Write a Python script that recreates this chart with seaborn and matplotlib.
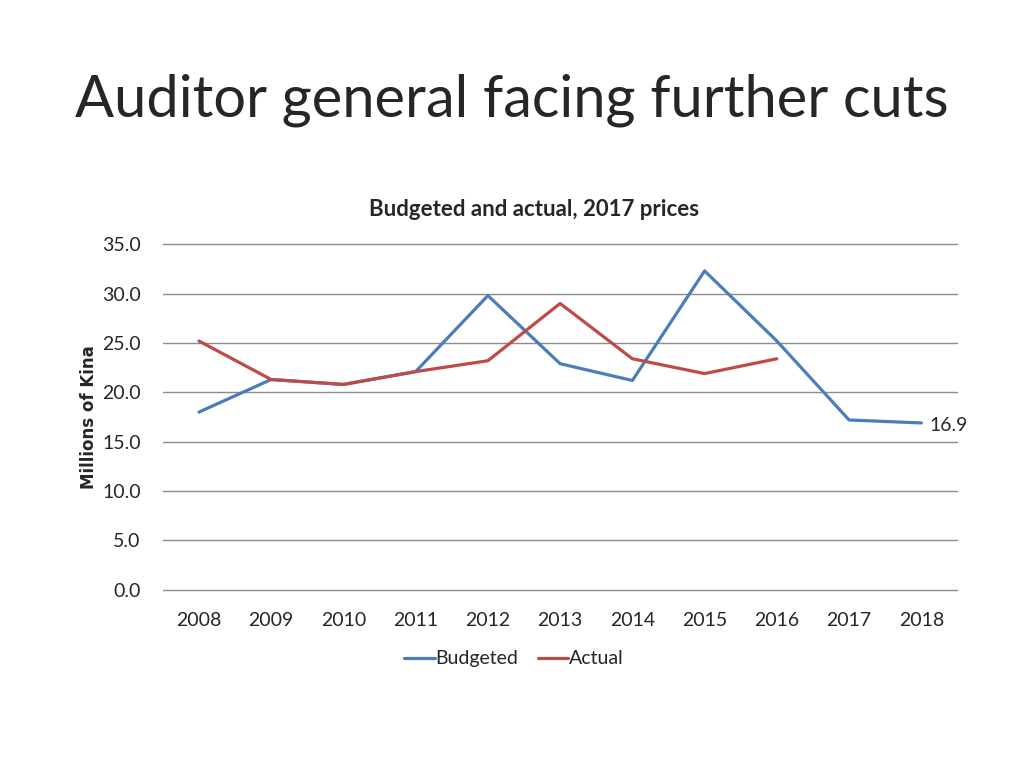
import pandas as pd
import matplotlib.pyplot as plt
import seaborn as sns

# data
years = ['2008', '2009', '2010', '2011', '2012', '2013', '2014', '2015', '2016', '2017', '2018']
budgeted = [18.0, 21.3, 20.8, 22.1, 29.8, 22.9, 21.2, 32.3, 25.2, 17.2, 16.9]
actual = [25.2, 21.3, 20.8, 22.1, 23.2, 29.0, 23.4, 21.9, 23.4, None, None]

df = pd.DataFrame({
    'pos': list(range(len(years))) * 2,
    'value': budgeted + actual,
    'series': ['Budgeted'] * len(years) + ['Actual'] * len(years),
}).dropna()

sns.set_style("white")
plt.rcParams['font.family'] = ['Lato', 'DejaVu Sans']

fig = plt.figure(figsize=(10.24, 7.68), dpi=100)
ax = fig.add_axes([0.159, 0.232, 0.776, 0.450])

sns.lineplot(data=df, x='pos', y='value', hue='series',
             palette={'Budgeted': '#4A7EBB', 'Actual': '#BE4B48'},
             linewidth=2.3, ax=ax)

ax.set_xlim(-0.5, len(years) - 0.5)
ax.set_ylim(0, 35)
ax.set_yticks([0, 5, 10, 15, 20, 25, 30, 35])
ax.set_yticklabels([f'{v:.1f}' for v in ax.get_yticks()], fontsize=14)
ax.set_xticks(range(len(years)))
ax.set_xticklabels(years, fontsize=14)
ax.tick_params(axis='x', length=0, pad=16)
ax.tick_params(axis='y', length=0, pad=16)
ax.grid(axis='y', color='#8c8c8c', linewidth=1)
for gl in ax.get_ygridlines():
    gl.set_clip_on(False)
ax.set_axisbelow(True)
for s in ax.spines.values():
    s.set_visible(False)

ax.set_xlabel('')
ax.set_ylabel('Millions of Kina', fontsize=12, fontweight='bold',
              family='DejaVu Sans', labelpad=3)

# label for last budgeted value
ax.annotate(f'{budgeted[-1]}', (len(years) - 1, budgeted[-1]),
            xytext=(6, -2), textcoords='offset points', va='center', fontsize=14)

ax.legend(loc='center', bbox_to_anchor=(0.442, -0.2), ncol=2, frameon=False,
          fontsize=14, handlelength=1.55, handletextpad=0.05, columnspacing=1.0)

fig.text(0.522, 0.727, 'Budgeted and actual, 2017 prices', fontsize=16, fontweight='bold',
         ha='center', va='center')
fig.text(0.073, 0.87, 'Auditor general facing further cuts', fontsize=41.6, va='center', ha='left')

plt.savefig('out.png', dpi=100)
